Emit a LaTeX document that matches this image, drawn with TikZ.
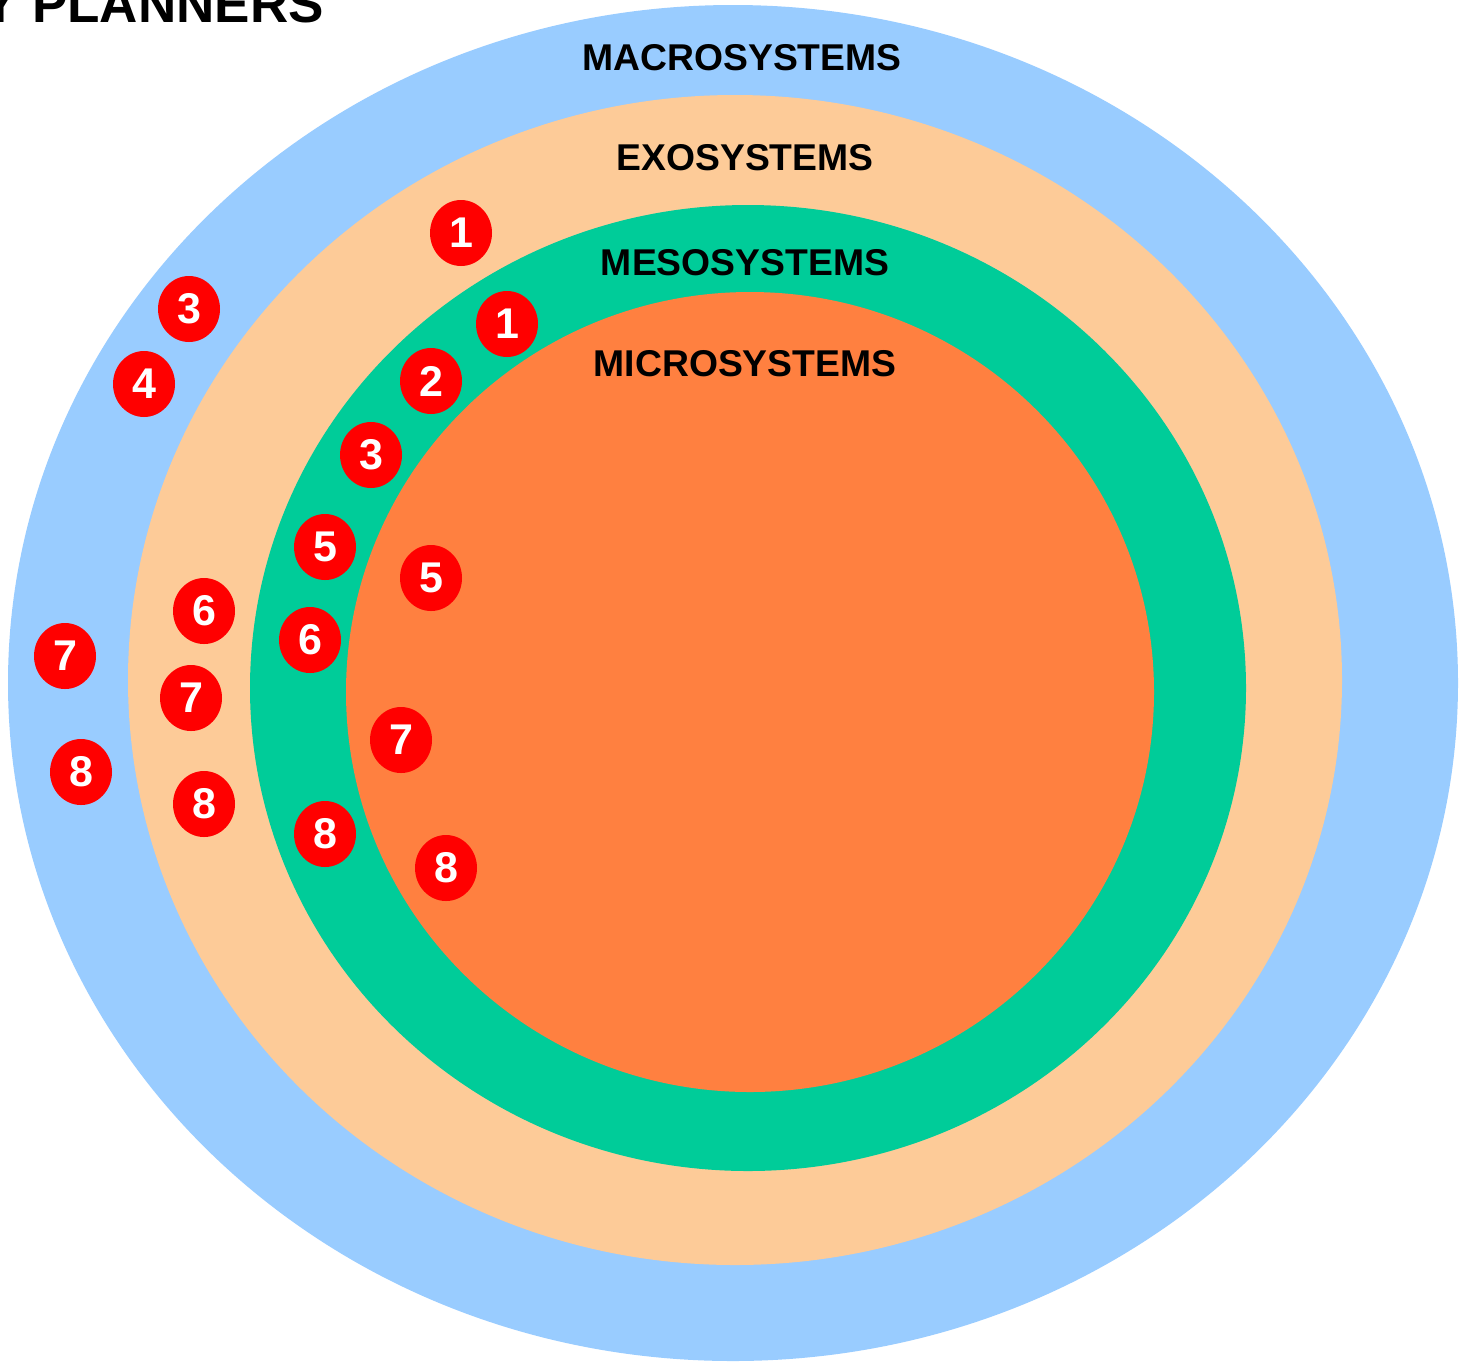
\documentclass[tikz,border=0pt]{standalone}
\usepackage{fontspec}
\setmainfont{Liberation Sans}
\usetikzlibrary{shapes.geometric}
\definecolor{macro}{HTML}{99CCFF}
\definecolor{exo}{HTML}{FDCB98}
\definecolor{meso}{HTML}{00CC99}
\definecolor{micro}{HTML}{FF8040}
\definecolor{badgered}{HTML}{FF0000}
\tikzset{
  layerlabel/.style={font=\fontsize{37.3}{40}\selectfont\bfseries, text=black, inner sep=0pt},
  badge/.style={ellipse, fill=badgered, minimum width=62pt, minimum height=66pt, inner sep=0pt,
    text=white, font=\fontsize{43}{45}\selectfont\bfseries}
}
\begin{document}
\begin{tikzpicture}[x=1pt,y=-1pt]
\useasboundingbox (0,0) rectangle (1463,1361);
\clip (0,0) rectangle (1463,1361);
\fill[white] (0,0) rectangle (1463,1361);
\fill[macro] (733,683) ellipse [x radius=725, y radius=678];
\fill[exo] (735,680) ellipse [x radius=607, y radius=585];
\fill[meso] (748,688) ellipse [x radius=498, y radius=483];
\fill[micro] (750,692) ellipse [x radius=404, y radius=400];
\node[layerlabel] (lmacro) at (742,58) {MACROSYSTEMS};
\node[layerlabel] (lexo) at (745,158) {EXOSYSTEMS};
\node[layerlabel] (lmeso) at (745,263) {MESOSYSTEMS};
\node[layerlabel] (lmicro) at (745,364) {MICROSYSTEMS};
\node[anchor=base west, inner sep=0pt, font=\fontsize{53}{56}\selectfont\bfseries] (title) at (-18,22) {Y PLANNERS};
\node[badge] (e1) at (461,233) {1};
\node[badge] (m1) at (507,324) {1};
\node[badge] (a3) at (189,309) {3};
\node[badge] (a4) at (144,384) {4};
\node[badge] (m2) at (431,381) {2};
\node[badge] (m3) at (371,455) {3};
\node[badge] (m5) at (325,547) {5};
\node[badge] (i5) at (431,578) {5};
\node[badge] (e6) at (204,611) {6};
\node[badge] (m6) at (310,640) {6};
\node[badge] (a7) at (65,656) {7};
\node[badge] (e7) at (191,698) {7};
\node[badge] (i7) at (401,740) {7};
\node[badge] (a8) at (81,772) {8};
\node[badge] (e8) at (204,804) {8};
\node[badge] (m8) at (325,834) {8};
\node[badge] (i8) at (446,868) {8};
\end{tikzpicture}
\end{document}
